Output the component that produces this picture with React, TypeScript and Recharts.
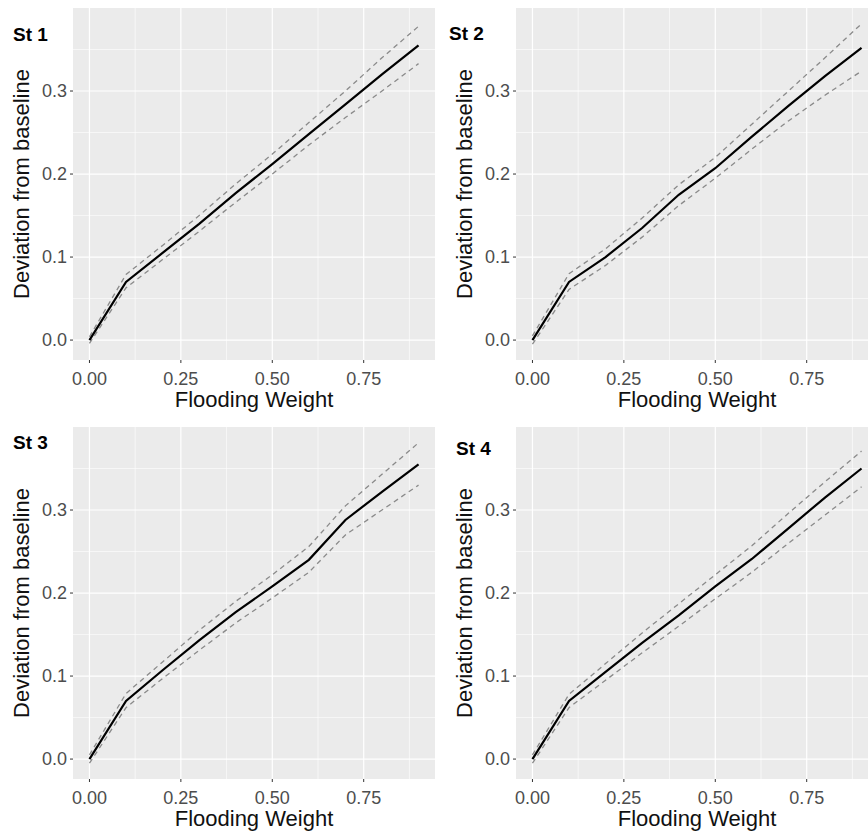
import React from "react";
import { LineChart, Line, XAxis, YAxis, CartesianGrid } from "recharts";

// flooding weight steps (x) shared by all stations
const flooding = [0, 0.1, 0.2, 0.3, 0.4, 0.5, 0.6, 0.7, 0.8, 0.9];
const stationNames = ["St 1", "St 2", "St 3", "St 4"];

const st1Mean = [0, 0.07, 0.105, 0.14, 0.177, 0.212, 0.248, 0.284, 0.32, 0.355];
const st1Upper = [0.004, 0.079, 0.114, 0.15, 0.188, 0.224, 0.262, 0.3, 0.34, 0.378];
const st1Lower = [-0.004, 0.063, 0.097, 0.131, 0.166, 0.2, 0.235, 0.268, 0.3, 0.333];

const st2Mean = [0, 0.07, 0.1, 0.135, 0.175, 0.207, 0.245, 0.282, 0.318, 0.352];
const st2Upper = [0.005, 0.08, 0.11, 0.147, 0.187, 0.22, 0.26, 0.3, 0.34, 0.381];
const st2Lower = [-0.005, 0.061, 0.09, 0.124, 0.162, 0.195, 0.23, 0.264, 0.295, 0.324];

const st3Mean = [0, 0.07, 0.107, 0.143, 0.177, 0.208, 0.24, 0.288, 0.322, 0.355];
const st3Upper = [0.005, 0.079, 0.117, 0.155, 0.19, 0.222, 0.256, 0.305, 0.343, 0.381];
const st3Lower = [-0.005, 0.062, 0.097, 0.131, 0.164, 0.194, 0.225, 0.27, 0.3, 0.33];

const st4Mean = [0, 0.07, 0.105, 0.14, 0.173, 0.208, 0.241, 0.278, 0.315, 0.35];
const st4Upper = [0.005, 0.078, 0.115, 0.152, 0.187, 0.222, 0.257, 0.296, 0.334, 0.371];
const st4Lower = [-0.005, 0.062, 0.095, 0.128, 0.16, 0.193, 0.225, 0.26, 0.294, 0.328];

const xTicks = [0, 0.25, 0.5, 0.75];
const yTicks = [0, 0.1, 0.2, 0.3];
const xMinor = [0.125, 0.375, 0.625, 0.875];
const yMinor = [0.05, 0.15, 0.25, 0.35];

const FONT = "'Liberation Sans', Arial, sans-serif";

// where each facet sits on the page
const boxes = [
  { left: 0, top: 0, titleX: 13, titleY: 25 },
  { left: 443, top: 0, titleX: 6, titleY: 24 },
  { left: 0, top: 419, titleX: 13, titleY: 14 },
  { left: 443, top: 419, titleX: 13, titleY: 20 },
];

type Box = { left: number; top: number; titleX: number; titleY: number };

function Panel({
  name,
  mean,
  upper,
  lower,
  box,
}: {
  name: string;
  mean: number[];
  upper: number[];
  lower: number[];
  box: Box;
}) {
  const rows = flooding.map((x, i) => ({
    x,
    mean: mean[i],
    upper: upper[i],
    lower: lower[i],
  }));

  return (
    <div
      style={{
        position: "absolute",
        left: box.left,
        top: box.top,
        width: 445,
        height: 419,
      }}
    >
      <LineChart
        width={445}
        height={419}
        data={rows}
        margin={{ top: 8, right: 10, bottom: 0, left: 0 }}
      >
        <CartesianGrid
          fill="#EBEBEB"
          stroke="#ffffff"
          strokeWidth={0.6}
          verticalValues={xMinor}
          horizontalValues={yMinor}
        />
        <CartesianGrid
          fill="none"
          stroke="#ffffff"
          strokeWidth={1.2}
          verticalValues={xTicks}
          horizontalValues={yTicks}
        />
        <XAxis
          type="number"
          dataKey="x"
          domain={[-0.045, 0.945]}
          ticks={xTicks}
          allowDataOverflow
          height={59}
          axisLine={false}
          tickSize={3}
          tickMargin={9}
          tickLine={{ stroke: "#333333" }}
          tick={{ fill: "#4d4d4d", fontSize: 18, fontFamily: FONT }}
          tickFormatter={(v: number) => v.toFixed(2)}
        />
        <YAxis
          type="number"
          domain={[-0.024, 0.4]}
          ticks={yTicks}
          allowDataOverflow
          width={73}
          axisLine={false}
          tickSize={3}
          tickMargin={3}
          tickLine={{ stroke: "#333333" }}
          tick={{ fill: "#4d4d4d", fontSize: 18, fontFamily: FONT }}
          tickFormatter={(v: number) => v.toFixed(1)}
        />
        <Line
          dataKey="upper"
          type="linear"
          stroke="#8a8a8a"
          strokeWidth={1.3}
          strokeDasharray="5 4"
          dot={false}
          isAnimationActive={false}
        />
        <Line
          dataKey="lower"
          type="linear"
          stroke="#8a8a8a"
          strokeWidth={1.3}
          strokeDasharray="5 4"
          dot={false}
          isAnimationActive={false}
        />
        <Line
          dataKey="mean"
          type="linear"
          stroke="#000000"
          strokeWidth={2.2}
          dot={false}
          isAnimationActive={false}
        />
      </LineChart>

      <div
        style={{
          position: "absolute",
          left: box.titleX,
          top: box.titleY,
          fontFamily: FONT,
          fontWeight: "bold",
          fontSize: 19,
          lineHeight: 1,
          color: "#000",
        }}
      >
        {name}
      </div>
      <div
        style={{
          position: "absolute",
          left: 22,
          top: 184,
          transform: "translate(-50%, -50%) rotate(-90deg)",
          whiteSpace: "nowrap",
          fontFamily: FONT,
          fontSize: 22,
          lineHeight: 1,
          color: "#111",
        }}
      >
        Deviation from baseline
      </div>
      <div
        style={{
          position: "absolute",
          left: 254,
          top: 400,
          transform: "translate(-50%, -50%)",
          whiteSpace: "nowrap",
          fontFamily: FONT,
          fontSize: 22,
          lineHeight: 1,
          color: "#111",
        }}
      >
        Flooding Weight
      </div>
    </div>
  );
}

export default function App() {
  const series = [
    [st1Mean, st1Upper, st1Lower],
    [st2Mean, st2Upper, st2Lower],
    [st3Mean, st3Upper, st3Lower],
    [st4Mean, st4Upper, st4Lower],
  ];

  return (
    <div
      style={{
        position: "absolute",
        left: 0,
        top: 0,
        width: 868,
        height: 834,
        overflow: "hidden",
        background: "#ffffff",
      }}
    >
      {stationNames.map((name, i) => (
        <Panel
          key={name}
          name={name}
          mean={series[i][0]}
          upper={series[i][1]}
          lower={series[i][2]}
          box={boxes[i]}
        />
      ))}
    </div>
  );
}
